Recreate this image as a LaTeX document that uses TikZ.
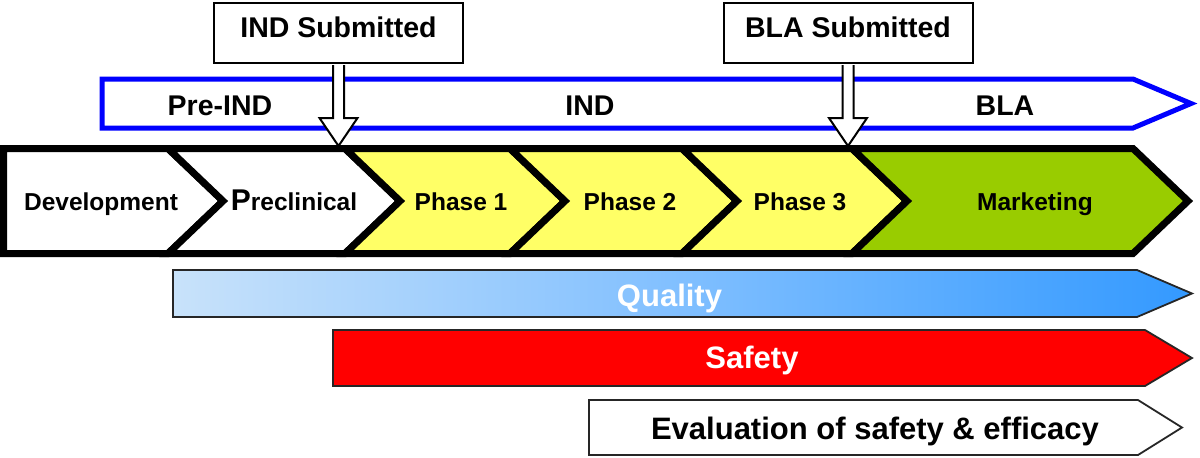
\documentclass[tikz,border=0pt]{standalone}
\usepackage{fontspec}
\setmainfont{Liberation Sans}
\usetikzlibrary{calc}

\definecolor{phaseyellow}{RGB}{255,255,102}
\definecolor{marketgreen}{RGB}{153,204,0}
\definecolor{qualitylight}{RGB}{200,226,250}
\definecolor{qualitymid}{RGB}{128,191,255}
\definecolor{qualitydark}{RGB}{51,153,255}

\begin{document}
\begin{tikzpicture}[x=0.5pt,y=-0.5pt,
	period/.style={draw=blue,line width=2.5pt,fill=white,line join=miter},
	periodlabel/.style={font=\fontsize{14.25}{16}\selectfont\bfseries,text height=10.2pt,text depth=0pt,inner sep=0pt},
	stage/.style={draw=black,line width=3.5pt,line join=miter},
	stagelabel/.style={font=\fontsize{12.25}{14}\selectfont\bfseries,text height=8.8pt,text depth=0pt,inner sep=0pt},
	bar/.style={draw=black!85,line width=0.9pt,line join=miter},
	barlabel/.style={font=\fontsize{15.5}{18}\selectfont\bfseries,text height=11.1pt,text depth=0pt,inner sep=0pt},
	submitbox/.style={draw,fill=white,line width=1pt,minimum width=124.5pt,minimum height=30pt,inner sep=0pt,
		font=\fontsize{14.25}{16}\selectfont\bfseries,text height=10.2pt,text depth=6pt},
	submit/.style={draw,fill=white,line width=1pt,line join=miter}]

\useasboundingbox (0,0) rectangle (1200,457);

% The regulatory periods
\draw[period] (102,79) -- (1133,79) -- (1191,103.5) -- (1133,128) -- (102,128) -- cycle;
\node[periodlabel] (preind) at (220,105) {Pre-IND};
\node[periodlabel] (ind) at (590,105) {IND};
\node[periodlabel] (bla) at (1005,105) {BLA};

% The development stages
\draw[stage,fill=white] (3.5,148.5) -- (168,148.5) -- (223,201) -- (168,253.5) -- (3.5,253.5) -- cycle;
\foreach \xa/\xb/\col in {168/345/white, 345/510/phaseyellow, 510/682/phaseyellow, 682/852/phaseyellow}{
	\draw[stage,fill=\col] (\xa,148.5) -- (\xb,148.5) -- (\xb+55,201) -- (\xb,253.5) -- (\xa,253.5) -- (\xa+55,201) -- cycle;
}
\draw[stage,fill=marketgreen] (852,148.5) -- (1133,148.5) -- (1188,201) -- (1133,253.5) -- (852,253.5) -- (907,201) -- cycle;

\node[stagelabel] (dev) at (101,202) {Development};
\node[stagelabel] (precl) at (294,202) {{\fontsize{15}{15}\selectfont P}reclinical};
\node[stagelabel] (ph1) at (461,202) {Phase 1};
\node[stagelabel] (ph2) at (630,202) {Phase 2};
\node[stagelabel] (ph3) at (800,202) {Phase 3};
\node[stagelabel] (mkt) at (1035,202) {Marketing};

% The requirements
\draw[bar,left color=qualitylight,right color=qualitydark,middle color=qualitymid]
	(173,270) -- (1137,270) -- (1192,293.5) -- (1137,317) -- (173,317) -- cycle;
\draw[bar,fill=red] (333,330) -- (1145,330) -- (1192,358) -- (1145,386) -- (333,386) -- cycle;
\draw[bar,fill=white] (589,400) -- (1138,400) -- (1182,427.5) -- (1138,455) -- (589,455) -- cycle;

\node[barlabel,text=white] (quality) at (669.5,295) {Quality};
\node[barlabel,text=white] (safety) at (752,357) {Safety};
\node[barlabel] (evaluation) at (875,428) {Evaluation of safety \& efficacy};

% The submissions
\node[submitbox] (indbox) at (338.5,33) {IND Submitted};
\node[submitbox] (blabox) at (848,33) {BLA Submitted};
\coordinate (indtip) at (338.5,146);
\coordinate (blatip) at (848,146);
\foreach \b/\t in {indbox/indtip, blabox/blatip}{
	\draw[submit] ($(\b.south)+(-5.5,1)$) -- ($(\t)+(-5.5,-28)$) -- ($(\t)+(-19,-28)$) -- (\t)
		-- ($(\t)+(19,-28)$) -- ($(\t)+(5.5,-28)$) -- ($(\b.south)+(5.5,1)$);
}

\end{tikzpicture}
\end{document}
